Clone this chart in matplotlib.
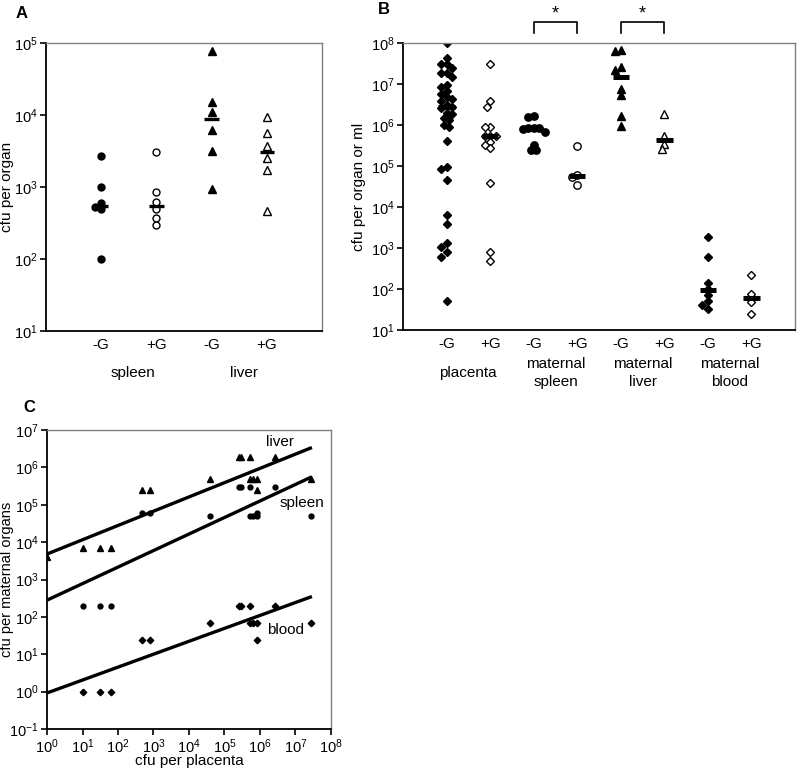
import numpy as np
import matplotlib
matplotlib.use('Agg')
import matplotlib.pyplot as plt
from matplotlib.ticker import NullLocator
import matplotlib.transforms as mtrans

plt.rcParams['font.family'] = ['Liberation Sans', 'DejaVu Sans']
plt.rcParams['font.size'] = 10

# ---- panel A: cfu per organ ----
a_labels = ['-G', '+G', '-G', '+G']
a_groups = ['spleen', 'liver']
a_spleen_minus = [2700, 1000, 600, 530, 490, 100]
a_spleen_plus = [3100, 850, 620, 500, 370, 300]
a_liver_minus = [78000, 15000, 11000, 6200, 3200, 940]
a_liver_plus = [9300, 5600, 3700, 2500, 1750, 460]
a_medians = [550, 550, 8700, 3100]

# ---- panel B: cfu per organ or ml ----
b_labels = ['-G', '+G'] * 4
b_groups = ['placenta', 'maternal\nspleen', 'maternal\nliver', 'maternal\nblood']
b_placenta_minus = [1e8, 4.4e7, 3e7, 3e7, 2.4e7, 1.9e7, 1.9e7, 1.5e7, 9.6e6, 8.3e6,
                    6.9e6, 5.7e6, 4.9e6, 4.2e6, 3.8e6, 3.0e6, 2.8e6, 2.6e6, 2.0e6, 1.9e6,
                    1.5e6, 1.3e6, 1.0e6, 9e5, 4.1e5, 9.3e4, 8.5e4, 4.6e4, 6500, 3900,
                    1300, 1050, 800, 620, 50]
b_placenta_plus = [3e7, 3.8e6, 2.8e6, 9e5, 9e5, 5.5e5, 5.5e5, 5.5e5, 3.9e5, 3.2e5,
                   2.8e5, 3.9e4, 800, 480]
b_spleen_minus = [1.7e6, 1.55e6, 8.5e5, 8.5e5, 8.2e5, 8.5e5, 6.6e5, 3.2e5, 2.4e5, 2.4e5]
b_spleen_plus = [3e5, 6.2e4, 5.3e4, 3.5e4]
b_liver_minus = [6.6e7, 6.3e7, 2.6e7, 2.2e7, 7.7e6, 5.3e6, 1.7e6, 9.2e5]
b_liver_plus = [1.9e6, 5.5e5, 3.5e5, 2.6e5]
b_blood_minus = [1900, 620, 140, 100, 72, 52, 40, 32]
b_blood_plus = [220, 74, 48, 24]
b_medians = [2.8e6, 5.5e5, 8.2e5, 5.8e4, 1.5e7, 4.3e5, 94, 59]

# ---- panel C: maternal organs vs placenta ----
c_placenta = [1, 10, 31, 62, 470, 790, 4.0e4, 2.5e5, 2.9e5, 5.1e5, 5.1e5, 6.2e5,
              8.5e5, 8.5e5, 2.6e6, 2.7e7]
c_liver = [4000, 7e3, 7e3, 7e3, 2.5e5, 2.5e5, 4.9e5, 1.9e6, 1.9e6, 1.9e6, 4.9e5,
           4.9e5, 4.9e5, 2.5e5, 1.9e6, 4.9e5]
c_spleen = [np.nan, 195, 195, 195, 6e4, 6e4, 5e4, 2.9e5, 2.9e5, 2.9e5, 5e4, 5e4,
            5e4, 6e4, 2.9e5, 5e4]
c_blood = [np.nan, 1, 1, 1, 24, 24, 69, 200, 200, 200, 69, 69, 69, 24, 200, 69]
c_fit_x = [1, 2.9e7]
c_fit_liver = [4800, 3.4e6]
c_fit_spleen = [280, 5.6e5]
c_fit_blood = [0.92, 350]


def swarm(vals, center, dec_px, unit_px, diam):
    # simple beeswarm: push overlapping points sideways
    logs = np.log10(vals)
    xs = np.zeros(len(vals))
    placed = []
    for i in np.argsort(-logs):
        y = logs[i] * dec_px
        for k in [0, -1, 1, -2, 2, -3, 3, -4, 4, -5, 5]:
            x = k * diam * 0.5
            if all((x - px) ** 2 + (y - py) ** 2 >= diam ** 2 for px, py in placed):
                break
        placed.append((x, y))
        xs[i] = center + x / unit_px
    return xs


def frame(ax):
    for s in ['top', 'right']:
        ax.spines[s].set_color('#808080'); ax.spines[s].set_linewidth(1.0)
    for s in ['left', 'bottom']:
        ax.spines[s].set_color('black'); ax.spines[s].set_linewidth(1.3)
    ax.yaxis.set_minor_locator(NullLocator())
    ax.tick_params(axis='y', direction='out', length=4, width=1.2, labelsize=10.5, pad=2)


fig = plt.figure(figsize=(7.97, 7.71), dpi=100)
axA = fig.add_axes([46/797, 1-331/771, 276/797, 288/771])
axB = fig.add_axes([403/797, 1-330/771, 392/797, 287/771])
axC = fig.add_axes([47/797, 1-729/771, 284/797, 299/771])

# panel A
axA.set_yscale('log'); axA.set_ylim(10, 1e5); axA.set_xlim(0, 5)
a_sets = [(a_spleen_minus, 'o', 'black'), (a_spleen_plus, 'o', 'white'),
          (a_liver_minus, '^', 'black'), (a_liver_plus, '^', 'white')]
for i, (v, m, fc) in enumerate(a_sets):
    xs = swarm(v, i + 1, 72, 55.2, 6.0)
    axA.plot(xs, v, ls='none', marker=m, ms=5.0 if m == 'o' else 6.0, mfc=fc, mec='black', mew=1.0)
    axA.plot([i + 1 - 0.13, i + 1 + 0.13], [a_medians[i]] * 2, color='black', lw=2.4, solid_capstyle='butt')
frame(axA)
axA.set_yticks([10 ** k for k in range(1, 6)])
axA.yaxis.set_minor_locator(NullLocator())
axA.set_xticks(range(1, 5)); axA.set_xticklabels(a_labels, fontsize=11)
axA.tick_params(axis='x', length=0, pad=5)
trA = mtrans.blended_transform_factory(axA.transData, axA.transAxes)
for j, g in enumerate(a_groups):
    axA.text(1.58 + 2 * j, -0.145, g, transform=trA, ha='center', va='center', fontsize=11)
axA.set_ylabel('cfu per organ', fontsize=11)
axA.yaxis.set_label_coords(-0.115, 0.5)

# panel B
axB.set_yscale('log'); axB.set_ylim(10, 1e8); axB.set_xlim(0, 9)
b_sets = [(b_placenta_minus, 'D', 'black'), (b_placenta_plus, 'D', 'white'),
          (b_spleen_minus, 'o', 'black'), (b_spleen_plus, 'o', 'white'),
          (b_liver_minus, '^', 'black'), (b_liver_plus, '^', 'white'),
          (b_blood_minus, 'D', 'black'), (b_blood_plus, 'D', 'white')]
for i, (v, m, fc) in enumerate(b_sets):
    xs = swarm(v, i + 1, 40.9, 43.7, 5.6)
    axB.plot(xs, v, ls='none', marker=m, ms={'D': 4.3, 'o': 5.3, '^': 6.3}[m],
             mfc=fc, mec='black', mew=1.0)
    axB.plot([i + 1 - 0.19, i + 1 + 0.19], [b_medians[i]] * 2, color='black', lw=3.6, solid_capstyle='butt')
frame(axB)
axB.set_yticks([10 ** k for k in range(1, 9)])
axB.yaxis.set_minor_locator(NullLocator())
axB.set_xticks(range(1, 9)); axB.set_xticklabels(b_labels, fontsize=11)
axB.tick_params(axis='x', length=0, pad=5)
trB = mtrans.blended_transform_factory(axB.transData, axB.transAxes)
for j, g in enumerate(b_groups):
    axB.text(1.5 + 2 * j, -0.15, g, transform=trB, ha='center', va='center', fontsize=11, linespacing=1.3)
for x0 in [3, 5]:
    axB.plot([x0, x0, x0 + 1, x0 + 1], [1.035, 1.073, 1.073, 1.035], color='black', lw=1.2,
             transform=trB, clip_on=False)
    axB.text(x0 + 0.5, 1.1, '*', transform=trB, ha='center', va='center', fontsize=13)
axB.set_ylabel('cfu per organ or ml', fontsize=11)
axB.yaxis.set_label_coords(-0.094, 0.5)

# panel C
axC.set_xscale('log'); axC.set_yscale('log')
axC.set_xlim(1, 1e8); axC.set_ylim(0.1, 1e7)
axC.plot(c_fit_x, c_fit_liver, color='black', lw=2.4, solid_capstyle='butt')
axC.plot(c_fit_x, c_fit_spleen, color='black', lw=2.4, solid_capstyle='butt')
axC.plot(c_fit_x, c_fit_blood, color='black', lw=2.4, solid_capstyle='butt')
axC.plot(c_placenta, c_liver, ls='none', marker='^', ms=5, color='black', clip_on=True)
axC.plot(c_placenta, c_spleen, ls='none', marker='o', ms=3.5, color='black')
axC.plot(c_placenta, c_blood, ls='none', marker='D', ms=3.3, color='black')
frame(axC)
axC.set_xticks([10 ** k for k in range(0, 9)])
axC.set_yticks([10 ** k for k in range(-1, 8)])
axC.xaxis.set_minor_locator(NullLocator()); axC.yaxis.set_minor_locator(NullLocator())
axC.tick_params(axis='x', direction='out', length=4, width=1.2, labelsize=10.5, pad=2)
axC.text(3.6e6, 4.8e6, 'liver', ha='center', va='center', fontsize=11)
axC.text(1.5e7, 1.1e5, 'spleen', ha='center', va='center', fontsize=11)
axC.text(5.4e6, 45, 'blood', ha='center', va='center', fontsize=11)
axC.set_ylabel('cfu per maternal organs', fontsize=10.5)
axC.yaxis.set_label_coords(-0.115, 0.5)
axC.set_xlabel('cfu per placenta', fontsize=11)
axC.xaxis.set_label_coords(0.5, -0.085)

# panel letters
fig.text(22/797, 1-13/771, 'A', fontsize=12, fontweight='bold', ha='center', va='center')
fig.text(384/797, 1-10/771, 'B', fontsize=12, fontweight='bold', ha='center', va='center')
fig.text(29/797, 1-407/771, 'C', fontsize=12, fontweight='bold', ha='center', va='center')

fig.savefig('out.png', dpi=100)
